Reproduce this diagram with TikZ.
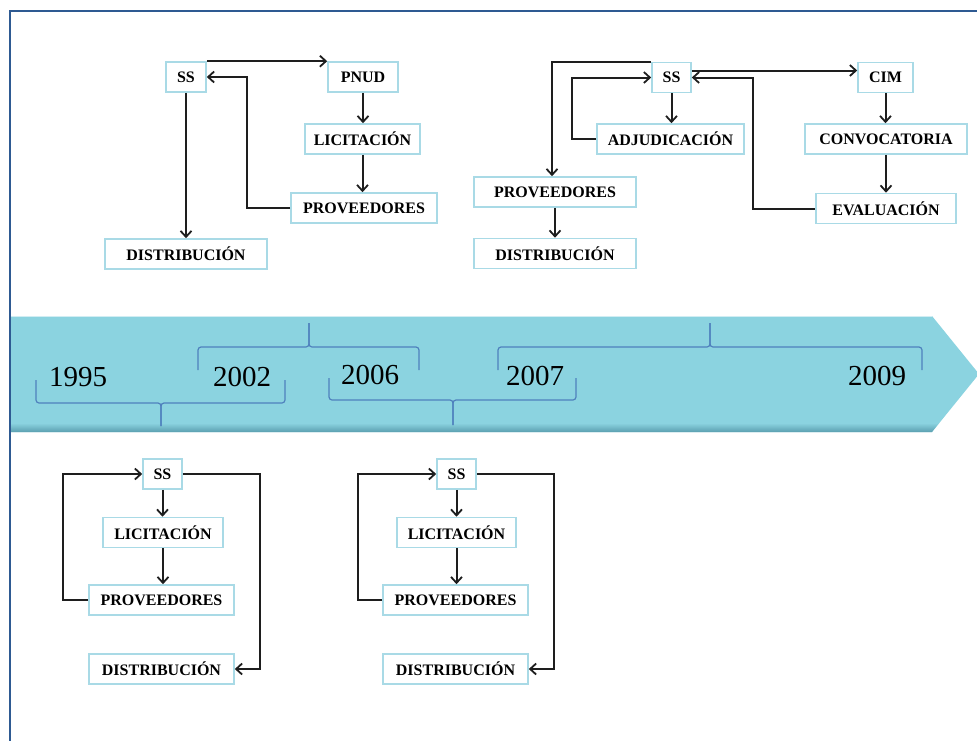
\documentclass[tikz,border=0pt]{standalone}
\usepackage{fontspec}
\setmainfont{Liberation Serif}
\usetikzlibrary{arrows.meta}
\definecolor{framecol}{HTML}{2E5A92}
\definecolor{bandcol}{HTML}{8BD3E0}
\definecolor{banddark}{HTML}{5B9FB0}
\definecolor{bracecol}{HTML}{4F81BD}
\definecolor{boxcol}{HTML}{A9DAE6}
\definecolor{linkcol}{HTML}{1E1E1E}
\begin{document}
\begin{tikzpicture}[x=1pt,y=-1pt,
  stepbox/.style={draw=boxcol, line width=1.6pt, fill=white, minimum height=30pt,
    inner sep=0pt, font=\fontsize{16}{18}\selectfont\bfseries},
  flow/.style={draw=linkcol, line width=2pt,
    -{Straight Barb[length=6pt,width=11pt,line width=1.8pt]}},
  yearlbl/.style={font=\fontsize{29}{30}\selectfont, inner sep=0pt},
  bracket/.style={draw=bracecol, line width=1.2pt, rounded corners=3pt}]
\useasboundingbox (0,0) rectangle (977,740);
\fill[white] (0,0) rectangle (977,740);

% timeline band
\fill[bandcol] (10,316) -- (932,316) -- (979,374) -- (932,432) -- (10,432) -- cycle;
\shade[top color=bandcol, bottom color=banddark]
  (10,423) -- (939,423) -- (932,432) -- (10,432) -- cycle;
\draw[white!60!bandcol, line width=1pt] (10,316.5) -- (932,316.5);

% braces grouping the years
\draw[bracket] (36,380) -- (36,403) -- (161,403) -- (161,426);
\draw[bracket] (285,380) -- (285,403) -- (161,403) -- (161,426);
\draw[bracket] (198,370) -- (198,347) -- (309,347) -- (309,323);
\draw[bracket] (419,370) -- (419,347) -- (309,347) -- (309,323);
\draw[bracket] (329,378) -- (329,400) -- (453,400) -- (453,425);
\draw[bracket] (576,378) -- (576,400) -- (453,400) -- (453,425);
\draw[bracket] (498,370) -- (498,347) -- (710,347) -- (710,323);
\draw[bracket] (922,370) -- (922,347) -- (710,347) -- (710,323);

% years
\node[yearlbl] (y1995) at (78,377) {1995};
\node[yearlbl] (y2002) at (242,377) {2002};
\node[yearlbl] (y2006) at (370,375) {2006};
\node[yearlbl] (y2007) at (535,376) {2007};
\node[yearlbl] (y2009) at (877,376) {2009};

% frame
\draw[framecol, line width=2.2pt] (10,760) -- (10,11) -- (990,11);

% ---- 1995 scheme (top left)
\node[stepbox, minimum width=40pt]  (ssA)   at (186,77)    {SS};
\node[stepbox, minimum width=70pt]  (pnud)  at (363,77)    {PNUD};
\node[stepbox, minimum width=115pt] (licA)  at (362.5,139) {LICITACIÓN};
\node[stepbox, minimum width=146pt] (provA) at (364,208)   {PROVEEDORES};
\node[stepbox, minimum width=162pt] (distA) at (186,254)   {DISTRIBUCIÓN};
\draw[flow] (ssA.north east) -- (pnud.north west);
\draw[flow] (pnud.south) -- (pnud.south |- licA.north);
\draw[flow] (licA.south) -- (licA.south |- provA.north);
\draw[flow] (provA.west) -- ++(-43,0) |- (ssA.east);
\draw[flow] (ssA.south) -- (ssA.south |- distA.north);

% ---- 2007-2009 scheme (top right)
\node[stepbox, minimum width=39pt]  (ssB)   at (671.5,77.5) {SS};
\node[stepbox, minimum width=55pt]  (cim)   at (885.5,77.5) {CIM};
\node[stepbox, minimum width=147pt] (adj)   at (670.5,139)  {ADJUDICACIÓN};
\node[stepbox, minimum width=162pt] (conv)  at (886,139)    {CONVOCATORIA};
\node[stepbox, minimum width=162pt] (provB) at (555,192)    {PROVEEDORES};
\node[stepbox, minimum width=162pt] (distB) at (555,253.5)  {DISTRIBUCIÓN};
\node[stepbox, minimum width=140pt] (evalu) at (886,208.5)  {EVALUACIÓN};
\draw[flow] (ssB.north west) -| ([xshift=-3pt]provB.north);
\draw[flow] (adj.west) -- ++(-24,0) |- (ssB.west);
\draw[flow] (ssB.south) -- (ssB.south |- adj.north);
\draw[flow] ([yshift=7pt]ssB.east) -- ([yshift=7pt]cim.west);
\draw[flow] (evalu.west) -- ++(-62,0) |- (ssB.east);
\draw[flow] (cim.south) -- (cim.south |- conv.north);
\draw[flow] (conv.south) -- (conv.south |- evalu.north);
\draw[flow] (provB.south) -- (provB.south |- distB.north);

% ---- 2002 scheme (bottom left)
\node[stepbox, minimum width=39pt]  (ssC)   at (162.5,474)   {SS};
\node[stepbox, minimum width=120pt] (licC)  at (163,532.5)   {LICITACIÓN};
\node[stepbox, minimum width=145pt] (provC) at (161.5,600)   {PROVEEDORES};
\node[stepbox, minimum width=145pt] (distC) at (161.5,669)   {DISTRIBUCIÓN};
\draw[flow] (ssC.south) -- (ssC.south |- licC.north);
\draw[flow] (licC.south) -- (licC.south |- provC.north);
\draw[flow] (provC.west) -- ++(-25,0) |- (ssC.west);
\draw[flow] (ssC.east) -- ++(77,0) |- (distC.east);

% ---- 2006 scheme (bottom middle)
\node[stepbox, minimum width=39pt]  (ssD)   at (456.5,474)   {SS};
\node[stepbox, minimum width=119pt] (licD)  at (456.5,532.5) {LICITACIÓN};
\node[stepbox, minimum width=145pt] (provD) at (455.5,600)   {PROVEEDORES};
\node[stepbox, minimum width=145pt] (distD) at (455.5,669)   {DISTRIBUCIÓN};
\draw[flow] (ssD.south) -- (ssD.south |- licD.north);
\draw[flow] (licD.south) -- (licD.south |- provD.north);
\draw[flow] (provD.west) -- ++(-24,0) |- (ssD.west);
\draw[flow] (ssD.east) -- ++(77,0) |- (distD.east);
\end{tikzpicture}
\end{document}
